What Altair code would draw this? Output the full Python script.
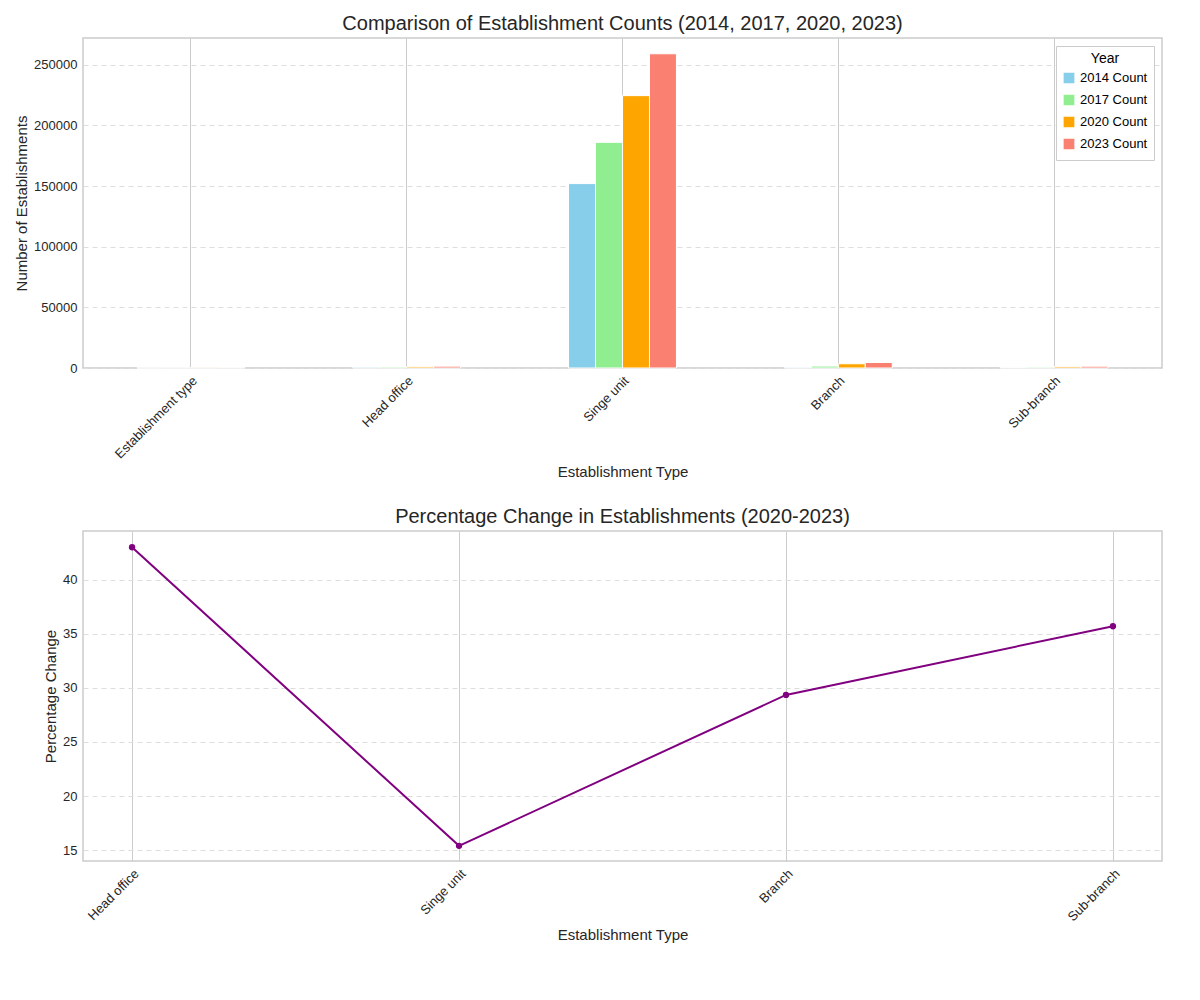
import altair as alt
import pandas as pd

types = ["Establishment type", "Head office", "Singe unit", "Branch", "Sub-branch"]
years = ["2014 Count", "2017 Count", "2020 Count", "2023 Count"]
counts_2014 = [100, 700, 152000, 600, 500]
counts_2017 = [150, 800, 186000, 1600, 700]
counts_2020 = [200, 1050, 224500, 3500, 1100]
counts_2023 = [300, 1500, 259000, 4530, 1490]

pct_types = ["Head office", "Singe unit", "Branch", "Sub-branch"]
pct_change = [43.0, 15.4, 29.35, 35.7]
colors = ["#87ceeb", "#90ee90", "#ffa500", "#fa8072"]

rows = []
for i, t in enumerate(types):
    for y, vals in zip(years, [counts_2014, counts_2017, counts_2020, counts_2023]):
        rows.append({"type": t, "year": y, "count": vals[i]})
bars_df = pd.DataFrame(rows)
line_df = pd.DataFrame({"type": pct_types, "pct": pct_change})

font = "Liberation Sans"

bars = alt.Chart(bars_df).mark_bar(stroke="white", strokeWidth=1).encode(
    x=alt.X("type:N", sort=types, title="Establishment Type",
            scale=alt.Scale(paddingInner=0.5, paddingOuter=0.25),
            axis=alt.Axis(labelAngle=-45, labelAlign="right", labelBaseline="top",
                          grid=True, bandPosition=0.5, gridColor="#cccccc",
                          ticks=False, domain=False)),
    xOffset=alt.XOffset("year:N", sort=years),
    y=alt.Y("count:Q", title="Number of Establishments",
            scale=alt.Scale(domain=[0, 272000], nice=False),
            axis=alt.Axis(values=[0, 50000, 100000, 150000, 200000, 250000], format="d",
                          gridDash=[5, 4], ticks=False, domain=False)),
    color=alt.Color("year:N", sort=years, scale=alt.Scale(domain=years, range=colors),
                    legend=alt.Legend(title="Year", orient="top-right", fillColor="white",
                                      strokeColor="#cccccc", padding=6, symbolType="square",
                                      symbolSize=150, titleFontWeight="normal", titleFontSize=14,
                                      labelFontSize=13, titleAnchor="middle", offset=8)),
).properties(width=1079, height=330,
             title=alt.Title("Comparison of Establishment Counts (2014, 2017, 2020, 2023)",
                             fontSize=20, fontWeight="normal"))

line = alt.Chart(line_df).mark_line(color="purple", strokeWidth=2,
                                    point=alt.OverlayMarkDef(color="purple", size=40, filled=True)).encode(
    x=alt.X("type:N", sort=pct_types, title="Establishment Type",
            scale=alt.Scale(type="point", padding=0.15),
            axis=alt.Axis(labelAngle=-45, labelAlign="right", labelBaseline="top",
                          grid=True, gridColor="#cccccc", ticks=False, domain=False)),
    y=alt.Y("pct:Q", title="Percentage Change",
            scale=alt.Scale(domain=[14, 44.5], nice=False, zero=False),
            axis=alt.Axis(values=[15, 20, 25, 30, 35, 40], gridDash=[5, 4], ticks=False, domain=False)),
).properties(width=1079, height=330,
             title=alt.Title("Percentage Change in Establishments (2020-2023)",
                             fontSize=20, fontWeight="normal"))

chart = alt.vconcat(bars, line, spacing=25).configure_view(
    stroke="#cccccc", strokeWidth=1.5
).configure_axis(
    labelFont=font, titleFont=font, labelFontSize=13, titleFontSize=15,
    titleFontWeight="normal", labelColor="#262626", titleColor="#262626",
    gridColor="#dddddd", labelPadding=6,
).configure_legend(labelFont=font, titleFont=font).configure_title(
    font=font, color="#262626"
)

chart.save("out.html", embed_options={"renderer": "svg", "actions": False})
